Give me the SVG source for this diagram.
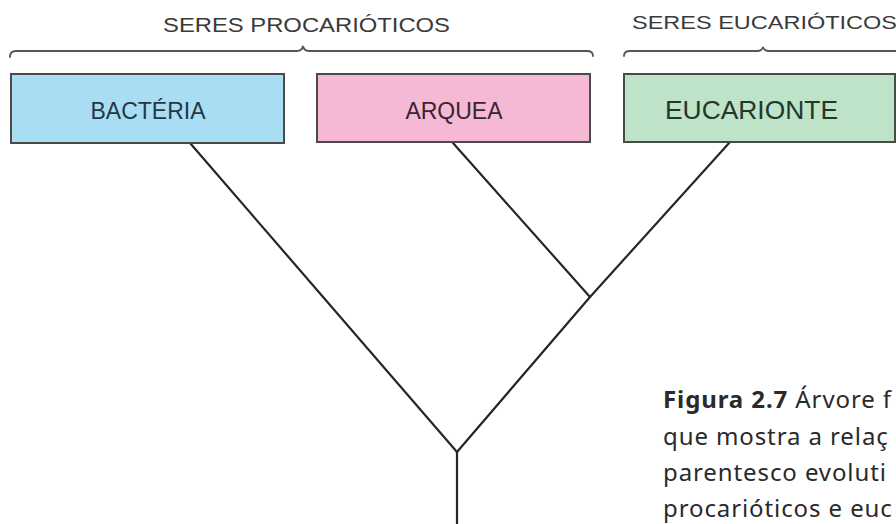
<svg xmlns="http://www.w3.org/2000/svg" width="896" height="524" viewBox="0 0 896 524">
  <style>
    .title { font-family: "Liberation Sans", Arial, sans-serif; fill: #3a3a3a; }
    .label { font-family: "Liberation Sans", Arial, sans-serif; text-anchor: middle; }
    .box { stroke: #4a4a4a; stroke-width: 2; }
    .brace { fill: none; stroke: #555555; stroke-width: 1.8; stroke-linecap: round; }
    .edge { fill: none; stroke: #262626; stroke-width: 2.2; stroke-linejoin: round; stroke-linecap: round; }
    .cap { font-family: "Noto Sans", "Open Sans", sans-serif; font-size: 24px; fill: #2a2a2a; letter-spacing: 0.9px; }
  </style>
  <rect width="896" height="524" fill="#ffffff"/>

  <g id="group-procarioticos">
    <text class="title" x="163" y="32" font-size="21" textLength="287" lengthAdjust="spacingAndGlyphs">SERES PROCARIÓTICOS</text>
    <path class="brace" d="M10,57 Q10,51 16,51 L297,51 Q302,51 303,46 Q304,51 309,51 L587,51 Q593,51 593,56"/>
  </g>
  <g id="group-eucarioticos">
    <text class="title" x="632" y="28.5" font-size="19" textLength="265" lengthAdjust="spacingAndGlyphs">SERES EUCARIÓTICOS</text>
    <path class="brace" d="M624,56 Q624,51 630,51 L757,51 Q762,51 763,47 Q764,51 769,51 L900,51"/>
  </g>

  <g id="connectors">
    <path class="edge" d="M190,143 L457,452"/>
    <path class="edge" d="M453,143 L590,297"/>
    <path class="edge" d="M730,142 L590,297 L457,452"/>
    <path class="edge" d="M457,452 L457,526"/>
  </g>

  <g id="node-bacteria">
    <rect class="box" x="11" y="74" width="273" height="69" fill="#a8ddf4"/>
    <text class="label" x="148" y="119" font-size="23" fill="#233845">BACTÉRIA</text>
  </g>
  <g id="node-arquea">
    <rect class="box" x="317" y="74" width="273" height="68" fill="#f5b9d5"/>
    <text class="label" x="454" y="119" font-size="23" fill="#3a2430">ARQUEA</text>
  </g>
  <g id="node-eucarionte">
    <rect class="box" x="624" y="74" width="271" height="68" fill="#bee3c9"/>
    <text class="label" x="751.5" y="119" font-size="26" textLength="173" lengthAdjust="spacingAndGlyphs" fill="#22382a">EUCARIONTE</text>
  </g>

  <g id="caption">
    <text class="cap" x="663" y="408"><tspan font-weight="bold">Figura 2.7</tspan> Árvore f</text>
    <text class="cap" x="663" y="444.5">que mostra a relaç</text>
    <text class="cap" x="663" y="481">parentesco evoluti</text>
    <text class="cap" x="663" y="517">procarióticos e euc</text>
  </g>
</svg>
